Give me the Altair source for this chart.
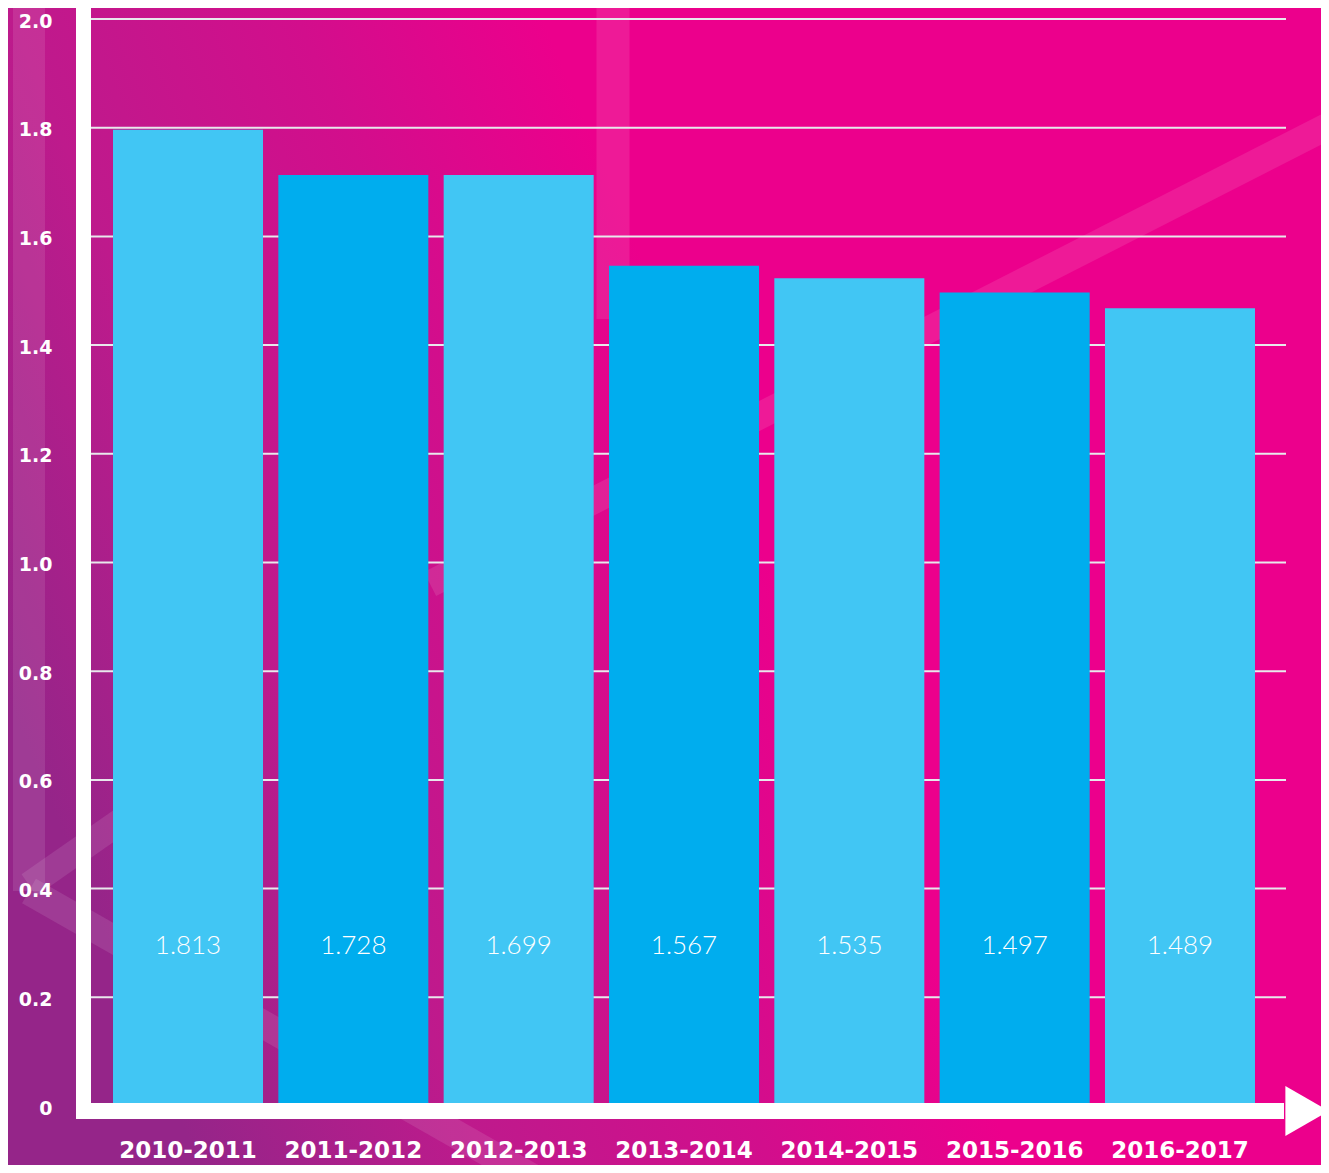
import altair as alt
import pandas as pd

# ---- data ----
periods = ["2010-2011", "2011-2012", "2012-2013", "2013-2014",
           "2014-2015", "2015-2016", "2016-2017"]
bar_heights = [1.796, 1.713, 1.713, 1.546, 1.523, 1.497, 1.468]
value_labels = ["1.813", "1.728", "1.699", "1.567", "1.535", "1.497", "1.489"]
bar_colors = ["#41C6F4", "#00ADEE", "#41C6F4", "#00ADEE",
              "#41C6F4", "#00ADEE", "#41C6F4"]
y_ticks = [0, 0.2, 0.4, 0.6, 0.8, 1.0, 1.2, 1.4, 1.6, 1.8, 2.0]
grid_values = [0.2, 0.4, 0.6, 0.8, 1.0, 1.2, 1.4, 1.6, 1.8, 2.0]
label_level = 0.294

W, H = 1186, 1087
PAD = {"left": 83, "top": 11, "right": 44, "bottom": 59}

df = pd.DataFrame({"period": periods, "height": bar_heights,
                   "label": value_labels, "color": bar_colors})
grid_df = pd.DataFrame({"v": grid_values})
one = pd.DataFrame({"k": [0]})

yscale = alt.Scale(domain=[0, 2.0], nice=False, zero=True)
xscale = alt.Scale(paddingInner=0.0927, paddingOuter=0.1331)

# background gradient
bg = alt.Chart(one).mark_rect(
    color=alt.Gradient(
        gradient="linear",
        stops=[alt.GradientStop(color="#952589", offset=0),
               alt.GradientStop(color="#BE1A8C", offset=0.35),
               alt.GradientStop(color="#D20E8C", offset=0.7),
               alt.GradientStop(color="#EC008C", offset=1)],
        x1=0, y1=0.6, x2=0.55, y2=0.4)
).encode(
    x=alt.value(-PAD["left"]), x2=alt.value(W + PAD["right"]),
    y=alt.value(-PAD["top"]), y2=alt.value(H + PAD["bottom"])
)

# faint decorative bands
def band(x, y, x2=None, y2=None, w=30):
    enc = dict(x=alt.value(x), y=alt.value(y))
    if x2 is not None:
        enc["x2"] = alt.value(x2)
    if y2 is not None:
        enc["y2"] = alt.value(y2)
    return alt.Chart(one).mark_rule(color="white", opacity=0.1, strokeWidth=w,
                                    strokeCap="butt").encode(**enc)

band_left = band(-62, -12, y2=872, w=32)
band_chev_down = band(-62, 872, x2=470, y2=1175, w=28)
band_chev_up = band(-62, 866, x2=60, y2=781, w=26)
band_mid = band(522, -12, y2=300, w=33)
band_diag = band(339, 565, x2=1245, y2=103, w=27)

grid = alt.Chart(grid_df).mark_rule(color="#E8E8EC", strokeWidth=2).encode(
    y=alt.Y("v:Q", scale=yscale), x=alt.value(0), x2=alt.value(1195))

bars = alt.Chart(df).mark_bar().encode(
    x=alt.X("period:N", sort=None, scale=xscale,
            axis=alt.Axis(title=None, domain=False, ticks=False, grid=False,
                          labelAngle=0, labelFont="DejaVu Sans", labelFontWeight="bold",
                          labelFontSize=23, labelColor="white", labelPadding=51,
                          labelBaseline="alphabetic", zindex=1)),
    y=alt.Y("height:Q", scale=yscale,
            axis=alt.Axis(title=None, domain=False, ticks=False, grid=False,
                          values=y_ticks,
                          labelExpr="datum.value == 0 ? '0' : format(datum.value, '.1f')",
                          labelFont="DejaVu Sans", labelFontWeight="bold",
                          labelFontSize=19, labelColor="white", labelPadding=39,
                          labelAlign="right", labelBaseline="middle", labelOffset=2,
                          zindex=1)),
    color=alt.Color("color:N", scale=None),
)

texts = alt.Chart(df).mark_text(font="Lato", fontWeight=300, fontSize=26,
                                color="white", baseline="middle").encode(
    x=alt.X("period:N", sort=None, scale=xscale),
    y=alt.Y("lv:Q", scale=yscale),
    text="label:N",
).transform_calculate(lv=str(label_level))

yline = alt.Chart(one).mark_rule(color="white", strokeWidth=15, strokeCap="butt").encode(
    x=alt.value(-7.5), y=alt.value(-12), y2=alt.value(1100))
xline = alt.Chart(one).mark_rule(color="white", strokeWidth=16, strokeCap="butt").encode(
    x=alt.value(-15), x2=alt.value(1193), y=alt.value(1092))
arrow = alt.Chart(one).mark_point(shape="triangle-right", filled=True, color="white",
                                  opacity=1, size=2500).encode(
    x=alt.value(1216), y=alt.value(1092))

chart = alt.layer(bg, band_left, band_chev_down, band_chev_up, band_mid, band_diag,
                  grid, bars, texts, yline, xline, arrow).properties(
    width=W, height=H, padding=PAD, autosize=alt.AutoSizeParams(type="none"),
    background="#EC008C"
).configure_view(stroke=None)

chart.save("out.html", embed_options={"renderer": "svg", "actions": False})
